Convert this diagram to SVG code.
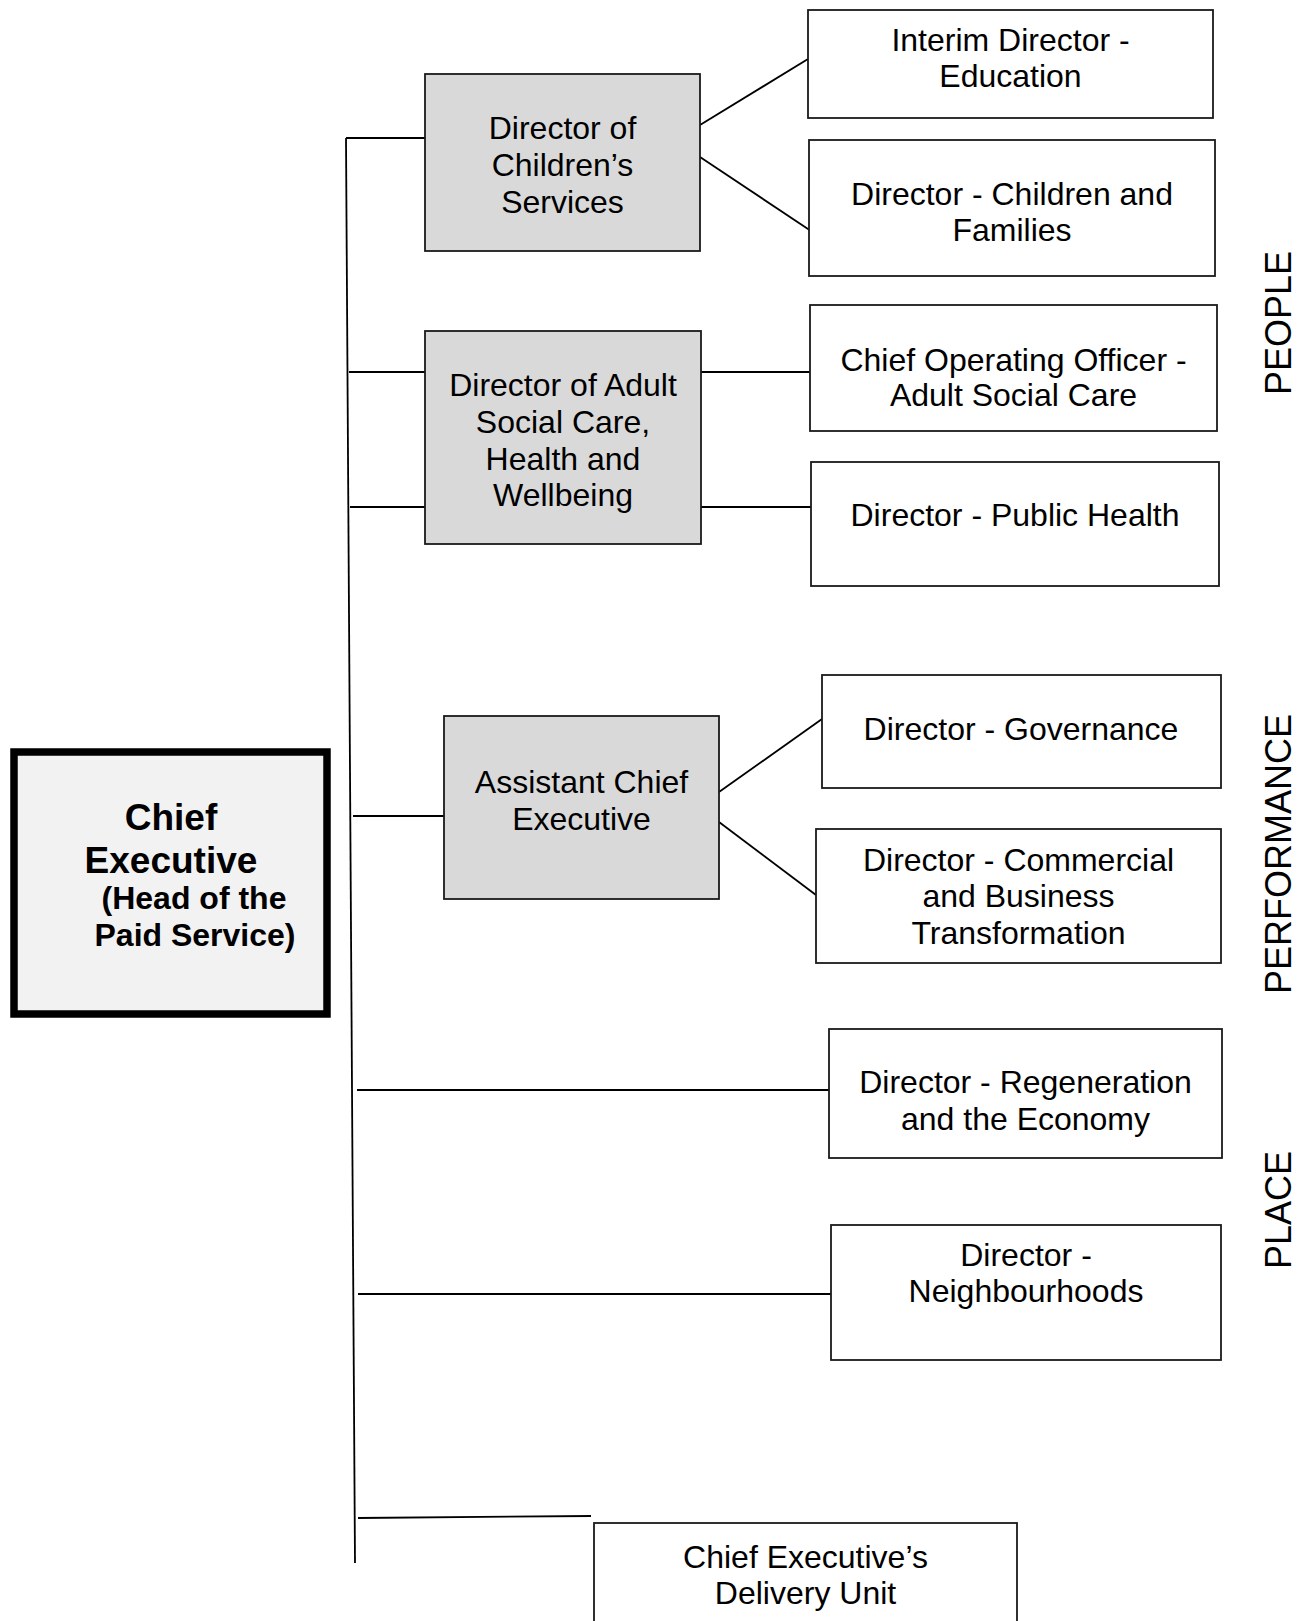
<svg xmlns="http://www.w3.org/2000/svg" width="1308" height="1621" viewBox="0 0 1308 1621">
<style>
.box{fill:#fff;stroke:#1a1a1a;stroke-width:1.8}
.gbox{fill:#d9d9d9;stroke:#1a1a1a;stroke-width:1.8}
.ceo{fill:#f2f2f2;stroke:#000;stroke-width:7.5}
.t{font-family:"Liberation Sans",Arial,sans-serif;font-size:32px;fill:#000;text-anchor:middle}
.b{font-family:"Liberation Sans",Arial,sans-serif;font-weight:bold;fill:#000;text-anchor:middle}
.lbl{font-family:"Liberation Sans",Arial,sans-serif;font-size:36px;fill:#000;text-anchor:middle}
.c{stroke:#000;stroke-width:1.8;fill:none}
</style>
<g id="connectors">
<line class="c" x1="346" y1="138" x2="355" y2="1563"/>
<line class="c" x1="346" y1="138" x2="425" y2="138"/>
<line class="c" x1="349" y1="372" x2="425" y2="372"/>
<line class="c" x1="350" y1="507" x2="425" y2="507"/>
<line class="c" x1="353" y1="816" x2="444" y2="816"/>
<line class="c" x1="357" y1="1090" x2="829" y2="1090"/>
<line class="c" x1="358" y1="1294" x2="831" y2="1294"/>
<line class="c" x1="358" y1="1518" x2="591" y2="1516" stroke-width="1.2"/>
<line class="c" x1="700" y1="125" x2="808" y2="59"/>
<line class="c" x1="700" y1="157" x2="811" y2="231"/>
<line class="c" x1="701" y1="372" x2="810" y2="372"/>
<line class="c" x1="701" y1="507" x2="811" y2="507"/>
<line class="c" x1="719" y1="792" x2="822" y2="719"/>
<line class="c" x1="719" y1="822" x2="816" y2="895"/>
</g>
<g id="ceo">
<rect class="ceo" x="14" y="752" width="313" height="262"/>
<text class="b" font-size="37" x="171" y="830">Chief</text>
<text class="b" font-size="37" x="171" y="873">Executive</text>
<text class="b" font-size="32" x="194" y="909">(Head of the</text>
<text class="b" font-size="32" x="195" y="946">Paid Service)</text>
</g>
<g id="dcs">
<rect class="gbox" x="425" y="74" width="275" height="177"/>
<text class="t" x="562.5" y="139">Director of</text>
<text class="t" x="562.5" y="176">Children’s</text>
<text class="t" x="562.5" y="213">Services</text>
</g>
<g id="dasc">
<rect class="gbox" x="425" y="331" width="276" height="213"/>
<text class="t" x="563" y="396">Director of Adult</text>
<text class="t" x="563" y="433">Social Care,</text>
<text class="t" x="563" y="470">Health and</text>
<text class="t" x="563" y="506">Wellbeing</text>
</g>
<g id="ace">
<rect class="gbox" x="444" y="716" width="275" height="183"/>
<text class="t" x="581.5" y="793">Assistant Chief</text>
<text class="t" x="581.5" y="830">Executive</text>
</g>
<g id="education">
<rect class="box" x="808" y="10" width="405" height="108"/>
<text class="t" x="1010.5" y="50.5">Interim Director -</text>
<text class="t" x="1010.5" y="87">Education</text>
</g>
<g id="children">
<rect class="box" x="809" y="140" width="406" height="136"/>
<text class="t" x="1012" y="205">Director - Children and</text>
<text class="t" x="1012" y="241">Families</text>
</g>
<g id="coo">
<rect class="box" x="810" y="305" width="407" height="126"/>
<text class="t" x="1013.5" y="370.5">Chief Operating Officer -</text>
<text class="t" x="1013.5" y="406">Adult Social Care</text>
</g>
<g id="publichealth">
<rect class="box" x="811" y="462" width="408" height="124"/>
<text class="t" x="1015" y="526">Director - Public Health</text>
</g>
<g id="governance">
<rect class="box" x="822" y="675" width="399" height="113"/>
<text class="t" x="1021" y="740">Director - Governance</text>
</g>
<g id="commercial">
<rect class="box" x="816" y="829" width="405" height="134"/>
<text class="t" x="1018.5" y="871">Director - Commercial</text>
<text class="t" x="1018.5" y="907">and Business</text>
<text class="t" x="1018.5" y="944">Transformation</text>
</g>
<g id="regeneration">
<rect class="box" x="829" y="1029" width="393" height="129"/>
<text class="t" x="1025.5" y="1093">Director - Regeneration</text>
<text class="t" x="1025.5" y="1130">and the Economy</text>
</g>
<g id="neighbourhoods">
<rect class="box" x="831" y="1225" width="390" height="135"/>
<text class="t" x="1026" y="1266">Director -</text>
<text class="t" x="1026" y="1302">Neighbourhoods</text>
</g>
<g id="deliveryunit">
<rect class="box" x="594" y="1523" width="423" height="110"/>
<text class="t" x="805.5" y="1568">Chief Executive’s</text>
<text class="t" x="805.5" y="1604">Delivery Unit</text>
</g>
<g id="labels">
<text class="lbl" transform="translate(1291,323) rotate(-90)">PEOPLE</text>
<text class="lbl" transform="translate(1291,854) rotate(-90)">PERFORMANCE</text>
<text class="lbl" transform="translate(1291,1210) rotate(-90)">PLACE</text>
</g>
</svg>
